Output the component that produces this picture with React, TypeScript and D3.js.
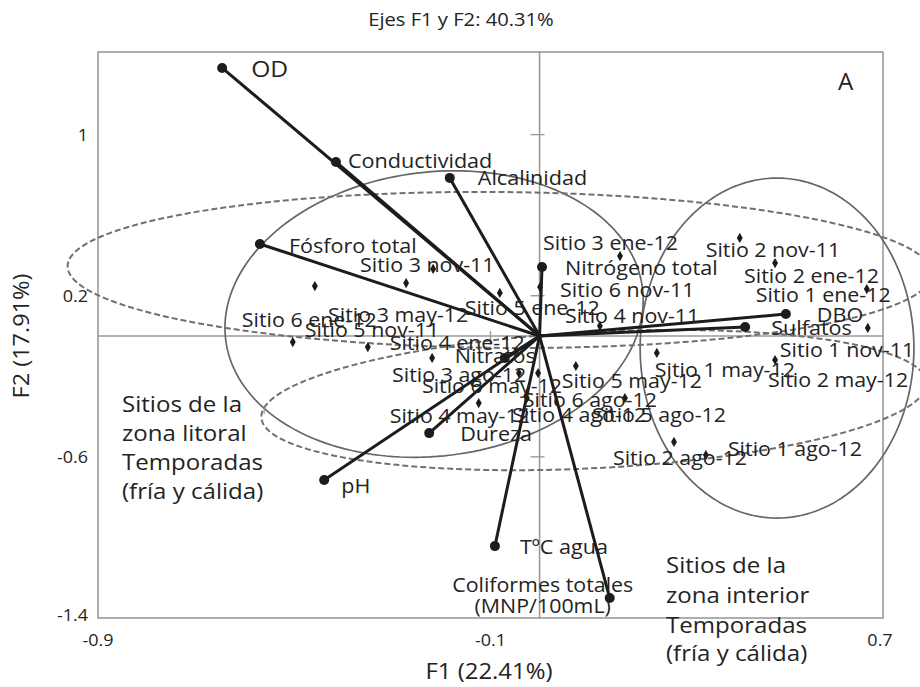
import React from 'react';
import * as d3 from 'd3';

const W = 920;
const H = 687;

// ---- Data (observations: sites) ----
const siteNames = [
  'Sitio 3 nov-11', 'Sitio 3 ene-12', 'Sitio 2 nov-11', 'Sitio 2 ene-12', 'Sitio 1 ene-12', 'Sitio 1 nov-11',
  'Sitio 6 nov-11', 'Sitio 5 ene-12', 'Sitio 4 nov-11', 'Sitio 6 ene-12', 'Sitio 3 may-12', 'Sitio 5 nov-11',
  'Sitio 4 ene-12', 'Sitio 3 ago-12', 'Sitio 6 may-12', 'Sitio 4 ago-12', 'Sitio 4 may-12', 'Sitio 5 may-12',
  'Sitio 1 may-12', 'Sitio 2 may-12', 'Sitio 5 ago-12', 'Sitio 2 ago-12', 'Sitio 1 ago-12', 'Sitio 6 ago-12',
];
const siteF1 = [
  -0.217, 0.164, 0.408, 0.480, 0.667, 0.669,
  0.001, -0.081, 0.123, -0.458, -0.272, -0.503,
  -0.350, -0.219, -0.042, -0.003, -0.124, 0.074,
  0.239, 0.480, 0.174, 0.274, 0.339, -0.026,
];
const siteF2 = [
  0.333, 0.397, 0.487, 0.362, 0.233, 0.040,
  0.243, 0.214, 0.050, 0.248, 0.263, -0.030,
  -0.055, -0.109, -0.184, -0.184, -0.333, -0.149,
  -0.084, -0.119, -0.308, -0.526, -0.591, -0.308,
];

// ---- Data (variables: vectors) ----
const varNames = [
  'OD', 'Conductividad', 'Alcalinidad', 'Fósforo total', 'Nitrógeno total', 'DBO',
  'Sulfatos', 'Nitratos', 'Dureza', 'pH', 'TºC agua', 'Coliformes totales',
];
const varF1 = [-0.647, -0.415, -0.183, -0.570, 0.005, 0.502, 0.419, -0.071, -0.225, -0.439, -0.091, 0.143];
const varF2 = [1.331, 0.864, 0.785, 0.457, 0.343, 0.109, 0.045, -0.109, -0.482, -0.715, -1.043, -1.301];

// ---- Confidence ellipses (centre, radii in axis units, rotation in degrees) ----
const ellF1 = [-0.215, 0.484, -0.081, 0.111];
const ellF2 = [0.109, -0.060, 0.328, -0.318];
const ellR1 = [0.428, 0.279, 0.881, 0.679];
const ellR2 = [0.705, 0.844, 0.387, 0.338];
const ellRot = [-7, 0, 0.5, -3];
const ellDashed = [false, false, true, true];

// ---- Ticks ----
const xTicks = [-0.9, -0.1, 0.7];
const yTicks = [-1.4, -0.6, 0.2, 1];

// ---- Layout (label offsets in px) ----
const siteLabelDx = [-73, -77, -34, -31, -111, -88, 20, -35, -35, -73, -78, 12, 22, -40, -97, -26, -89, -14, -2, -7, -33, -61, 22, -4];
const siteLabelDy = [3, -6, 19, 20, 13, 29, 10, 22, -3, 41, 39, -5, 3, 24, 20, 49, 20, 22, 24, 27, 24, 23, 1, 9];
const varLabelDx = [29, 12, 28, 29, 23, 31, 26, -50, 31, 17, 25, -67];
const varLabelDy = [9, 6, 7, 9, 8, 8, 8, 5, 8, 13, 8, -6];

const FONT = "'Open Sans', 'DejaVu Sans', sans-serif";
const TXT = '#232323';

const x = d3.scaleLinear().domain([-0.9, 0.7]).range([98, 883]);
const y = d3.scaleLinear().domain([-1.4, 1.41]).range([618, 52]);

function ellipsePath(i: number): string {
  const cx = x(ellF1[i]);
  const cy = y(ellF2[i]);
  const rx = Math.abs(x(ellF1[i] + ellR1[i]) - cx);
  const ry = Math.abs(y(ellF2[i] + ellR2[i]) - cy);
  const th = (ellRot[i] * Math.PI) / 180;
  const pts: [number, number][] = d3.range(0, 360, 2).map((a) => {
    const t = (a * Math.PI) / 180;
    const ex = rx * Math.cos(t);
    const ey = ry * Math.sin(t);
    return [cx + ex * Math.cos(th) - ey * Math.sin(th), cy + ex * Math.sin(th) + ey * Math.cos(th)];
  });
  return d3.line().curve(d3.curveLinearClosed)(pts) || '';
}

// text with a slight horizontal stretch (the reference type is wide)
function T(props: { x: number; y: number; size: number; sx?: number; anchor?: string; rotate?: number; children: React.ReactNode }) {
  const { x: tx, y: ty, size, sx = 1.08, anchor = 'start', rotate = 0, children } = props;
  return (
    <text
      transform={`translate(${tx},${ty})${rotate ? ` rotate(${rotate})` : ''} scale(${sx},1)`}
      fontSize={size}
      textAnchor={anchor}
      fill={TXT}
    >
      {children}
    </text>
  );
}

export default function App() {
  const x0 = x(0);
  const y0 = y(0);
  const diamond = d3.symbol().type(d3.symbolDiamond).size(30)() || '';
  return (
    <svg
      width={W}
      height={H}
      style={{ position: 'absolute', left: 0, top: 0, background: '#fff' }}
      fontFamily={FONT}
    >
      <rect x={0} y={0} width={W} height={H} fill="#fff" />
      {/* title */}
      <T x={461} y={26} size={18} sx={1.12} anchor="middle">Ejes F1 y F2: 40.31%</T>

      {/* frame */}
      <rect x={x(-0.9)} y={y(1.41)} width={x(0.7) - x(-0.9)} height={y(-1.4) - y(1.41)} fill="none" stroke="#9a9a9a" strokeWidth={1.6} />
      {/* zero axes */}
      <line x1={x(-0.9)} x2={x(0.7)} y1={y0} y2={y0} stroke="#9a9a9a" strokeWidth={1.6} />
      <line x1={x0} x2={x0} y1={y(1.41)} y2={y(-1.4)} stroke="#9a9a9a" strokeWidth={1.6} />
      {yTicks.filter((v) => v > -1.4).map((v) => (
        <line key={'yt' + v} x1={x0 - 9} x2={x0 + 5} y1={y(v)} y2={y(v)} stroke="#9a9a9a" strokeWidth={1.4} />
      ))}
      {xTicks.filter((v) => v > -0.9 && v < 0.7).map((v) => (
        <line key={'xt' + v} x1={x(v)} x2={x(v)} y1={y0 - 5} y2={y0 + 9} stroke="#9a9a9a" strokeWidth={1.4} />
      ))}

      {/* tick labels */}
      {yTicks.map((v) => (
        <T key={'yl' + v} x={88} y={y(v) + (v === -1.4 ? 3 : 6)} size={17} sx={1.06} anchor="end">
          {String(v)}
        </T>
      ))}
      {xTicks.map((v) => (
        <T key={'xl' + v} x={x(v) + (v === 0.7 ? -3 : 0)} y={646} size={17} sx={1.06} anchor="middle">
          {String(v)}
        </T>
      ))}
      {/* axis titles */}
      <T x={489} y={679} size={21} sx={1.14} anchor="middle">F1 (22.41%)</T>
      <T x={29} y={y0} size={21} sx={1.12} anchor="middle" rotate={-90}>F2 (17.91%)</T>

      {/* ellipses */}
      {ellF1.map((_, i) => (
        <path
          key={'el' + i}
          d={ellipsePath(i)}
          fill="none"
          stroke={ellDashed[i] ? '#707070' : '#666'}
          strokeWidth={ellDashed[i] ? 2 : 1.7}
          strokeDasharray={ellDashed[i] ? '6,3' : undefined}
        />
      ))}
      <text x={264} y={414} fontSize={11} fill="#888" textAnchor="middle" fontFamily={FONT}>1</text>

      {/* site points */}
      {siteNames.map((n, i) => (
        <path key={'sp' + i} d={diamond} transform={`translate(${x(siteF1[i])},${y(siteF2[i])})`} fill="#1a1a1a" />
      ))}

      {/* vectors */}
      {varNames.map((n, i) => (
        <g key={'v' + i}>
          <line x1={x0} y1={y0} x2={x(varF1[i])} y2={y(varF2[i])} stroke="#1c1c1c" strokeWidth={3} />
          <circle cx={x(varF1[i])} cy={y(varF2[i])} r={5} fill="#1c1c1c" />
        </g>
      ))}

      {/* site labels */}
      {siteNames.map((n, i) => (
        <T key={'sl' + i} x={x(siteF1[i]) + siteLabelDx[i]} y={y(siteF2[i]) + siteLabelDy[i]} size={20} sx={1.07}>
          {n}
        </T>
      ))}

      {/* variable labels */}
      {varNames.map((n, i) => {
        const lx = x(varF1[i]) + varLabelDx[i];
        const ly = y(varF2[i]) + varLabelDy[i];
        if (n === 'Coliformes totales') {
          return (
            <g key={'vl' + i}>
              <T x={lx} y={ly} size={20} sx={1.07} anchor="middle">{n}</T>
              <T x={lx} y={ly + 21} size={20} sx={1.07} anchor="middle">(MNP/100mL)</T>
            </g>
          );
        }
        return (
          <T key={'vl' + i} x={lx} y={ly} size={n === 'OD' ? 22 : 20} sx={n === 'OD' ? 1.12 : 1.08}>
            {n}
          </T>
        );
      })}

      {/* panel letter */}
      <T x={838} y={90} size={23} sx={1.05}>A</T>

      {/* zone annotations */}
      <T x={122} y={412} size={21.5} sx={1.12}>Sitios de la</T>
      <T x={122} y={441} size={21.5} sx={1.12}>zona litoral</T>
      <T x={122} y={470} size={21.5} sx={1.12}>Temporadas</T>
      <T x={122} y={499} size={21.5} sx={1.12}>(fría y cálida)</T>
      <T x={666} y={573} size={21.5} sx={1.12}>Sitios de la</T>
      <T x={666} y={603} size={21.5} sx={1.12}>zona interior</T>
      <T x={666} y={633} size={21.5} sx={1.12}>Temporadas</T>
      <T x={666} y={661} size={21.5} sx={1.12}>(fría y cálida)</T>
    </svg>
  );
}
